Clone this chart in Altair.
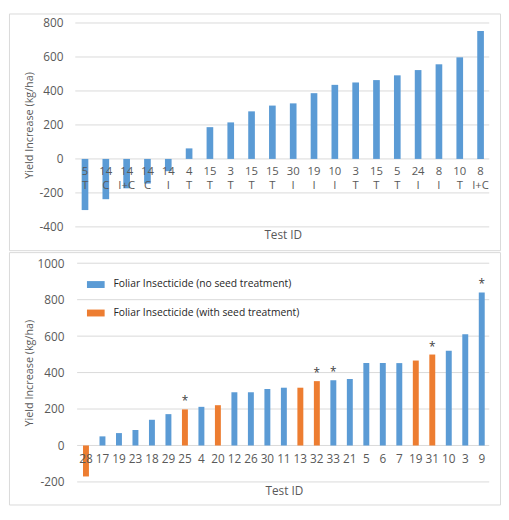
import altair as alt
import pandas as pd

# ---------------- data ----------------
top_ids = ["5", "14", "14", "14", "14", "4", "15", "3", "15", "15",
           "30", "19", "10", "3", "15", "5", "24", "8", "10", "8"]
top_types = ["T", "C", "I+C", "C", "I", "T", "T", "T", "T", "T",
             "I", "I", "I", "T", "T", "T", "I", "I", "T", "I+C"]
top_values = [-301, -237, -173, -145, -72, 62, 187, 215, 280, 314,
              327, 387, 436, 450, 464, 492, 523, 557, 598, 753]
top_ticks = [-400, -200, 0, 200, 400, 600, 800]

bottom_ids = ["28", "17", "19", "23", "18", "29", "25", "4", "20", "12",
              "26", "30", "11", "13", "32", "33", "21", "5", "6", "7",
              "19", "31", "10", "3", "9"]
bottom_values = [-170, 50, 68, 85, 141, 172, 198, 212, 221, 292,
                 292, 310, 317, 317, 353, 358, 365, 452, 452, 452,
                 466, 499, 520, 610, 840]
bottom_seed = [1, 0, 0, 0, 0, 0, 1, 0, 1, 0,
               0, 0, 0, 1, 1, 0, 0, 0, 0, 0,
               1, 1, 0, 0, 0]
bottom_star = [0, 0, 0, 0, 0, 0, 1, 0, 0, 0,
               0, 0, 0, 0, 1, 1, 0, 0, 0, 0,
               0, 1, 0, 0, 1]
bottom_ticks = [-200, 0, 200, 400, 600, 800, 1000]

series_names = ["Foliar Insecticide (no seed treatment)",
                "Foliar Insecticide (with seed treatment)"]
series_colors = ["#5b9bd5", "#ed7d31"]

# ---------------- tables ----------------
top_df = pd.DataFrame({"pos": list(range(len(top_ids))), "id": top_ids,
                       "typ": top_types, "value": top_values})
top_grid = pd.DataFrame({"v": top_ticks})
bot_df = pd.DataFrame({"pos": list(range(len(bottom_ids))), "id": bottom_ids,
                       "value": bottom_values,
                       "series": [series_names[s] for s in bottom_seed],
                       "star": bottom_star})
bot_grid = pd.DataFrame({"v": bottom_ticks})

TXT = "#595959"
GRID = "#d9d9d9"
FONT = "Open Sans"
LBL = "'' + datum.value"

# ---------------- top panel ----------------
W = 500
H1 = 241
ys1 = alt.Scale(domain=[-400, 800], range=[217.3, 9.7], nice=False, zero=False)
yax1 = alt.Axis(values=top_ticks, grid=False, ticks=False, domain=False,
                offset=-57, labelPadding=2, labelFontSize=12, labelColor=TXT,
                labelExpr=LBL,
                title="Yield Increase (kg/ha)", titleFontSize=11, titleColor=TXT,
                titleFontWeight="normal", titleX=-36.5, titleY=113.5,
                titleBaseline="middle", titleAngle=270)
xs1 = alt.Scale(range=[66.8, 490.8], paddingInner=0.68, paddingOuter=0.34)
xax1 = alt.Axis(labels=False, ticks=False, domain=False, grid=False,
                title="Test ID", titleFontSize=12, titleColor=TXT,
                titleFontWeight="normal", titleY=-15.7, titleBaseline="middle")
x1 = alt.X("pos:O", scale=xs1, axis=xax1)

g1 = alt.Chart(top_grid).mark_rule(color=GRID, strokeWidth=1).encode(
    y=alt.Y("v:Q", scale=ys1, axis=yax1),
    x=alt.value(67.5), x2=alt.value(489)
)
b1 = alt.Chart(top_df).mark_bar(color=series_colors[0]).encode(
    x=x1, y=alt.Y("value:Q", scale=ys1, axis=yax1), y2=alt.datum(0)
)
t1a = alt.Chart(top_df).mark_text(dy=13.6, baseline="middle", fontSize=11.5,
                                   color=TXT, font=FONT).encode(
    x=x1, y=alt.datum(0), text="id:N"
)
t1b = alt.Chart(top_df).mark_text(dy=28.1, baseline="middle", fontSize=11.5,
                                   color=TXT, font=FONT).encode(
    x=x1, y=alt.datum(0), text="typ:N"
)
top = alt.layer(g1, b1, t1a, t1b).properties(width=W, height=H1)

# ---------------- bottom panel ----------------
H2 = 257
ys2 = alt.Scale(domain=[-200, 1000], range=[234, 11.3], nice=False, zero=False)
yax2 = alt.Axis(values=bottom_ticks, grid=False, ticks=False, domain=False,
                offset=-58, labelPadding=2, labelFontSize=12, labelColor=TXT,
                labelExpr=LBL,
                title="Yield Increase (kg/ha)", titleFontSize=11, titleColor=TXT,
                titleFontWeight="normal", titleX=-37, titleY=122.7,
                titleBaseline="middle", titleAngle=270)
xs2 = alt.Scale(range=[70.0, 489.8], paddingInner=0.64, paddingOuter=0.32)
xax2 = alt.Axis(labels=False, ticks=False, domain=False, grid=False,
                title="Test ID", titleFontSize=12, titleColor=TXT,
                titleFontWeight="normal", titleY=-14.6, titleBaseline="middle")
x2 = alt.X("pos:O", scale=xs2, axis=xax2)

g2 = alt.Chart(bot_grid).mark_rule(color=GRID, strokeWidth=1).encode(
    y=alt.Y("v:Q", scale=ys2, axis=yax2),
    x=alt.value(69.4), x2=alt.value(489)
)
b2 = alt.Chart(bot_df).mark_bar().encode(
    x=x2, y=alt.Y("value:Q", scale=ys2, axis=yax2), y2=alt.datum(0),
    color=alt.Color("series:N",
                    scale=alt.Scale(domain=series_names, range=series_colors),
                    legend=alt.Legend(orient="none", legendX=79.4,
                                      legendY=H1 + 26,
                                      title=None, direction="vertical",
                                      symbolType="M-1,-0.39H1V0.39H-1Z",
                                      symbolSize=324, symbolStrokeWidth=0,
                                      symbolOpacity=1, labelFontSize=10.5,
                                      labelColor="#262626", labelFont=FONT,
                                      labelLimit=0,
                                      labelOffset=9, rowPadding=14, padding=0))
)
t2 = alt.Chart(bot_df).mark_text(dy=13.8, baseline="middle", fontSize=12,
                                  color=TXT, font=FONT).encode(
    x=x2, y=alt.datum(0), text="id:N"
)
s2 = alt.Chart(bot_df).transform_filter("datum.star == 1").mark_text(
    dy=-4, baseline="alphabetic", fontSize=12, color="#404040", font=FONT
).encode(
    x=x2, y=alt.Y("value:Q", scale=ys2, axis=yax2), text=alt.value("*")
)
bottom = alt.layer(g2, b2, t2, s2).properties(width=W, height=H2)

chart = alt.vconcat(top, bottom, spacing=0).properties(padding=0).configure(
    font=FONT
).configure_view(stroke=GRID, strokeWidth=1)

chart.save("out.html", embed_options={"renderer": "svg", "actions": False})
